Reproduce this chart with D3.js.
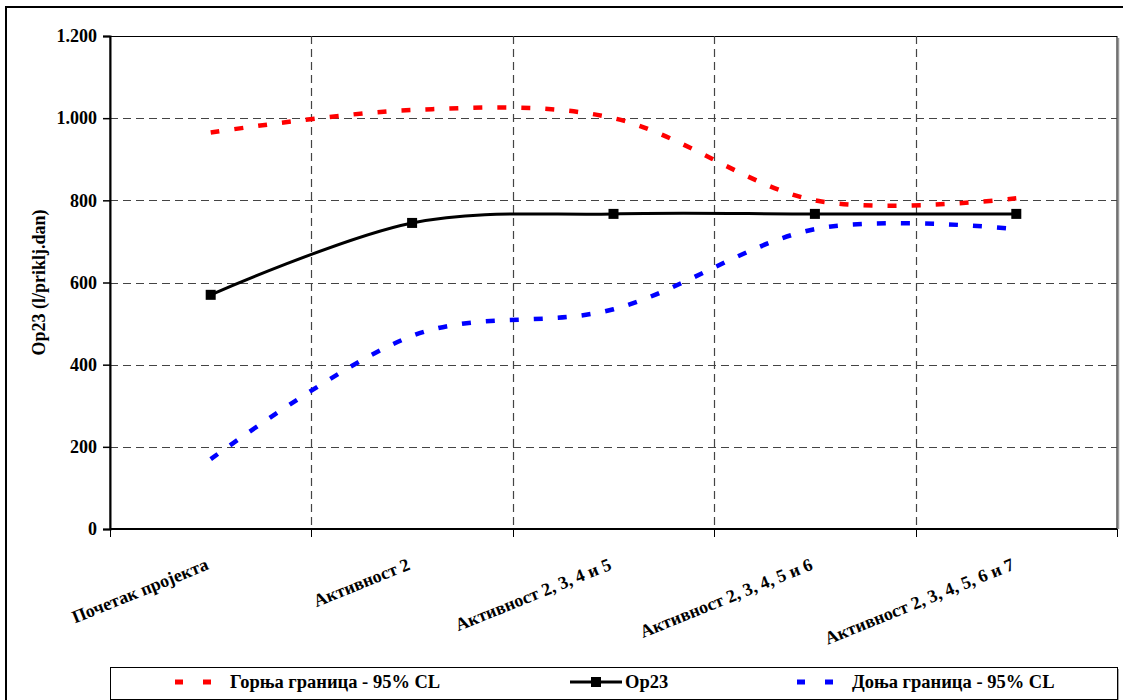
<!DOCTYPE html>
<html>
<head>
<meta charset="utf-8">
<script src="https://cdn.jsdelivr.net/npm/d3@7"></script>
<style>
  html, body { margin: 0; padding: 0; background: #fff; }
  svg text { font-family: "Times New Roman", "Liberation Serif", Tinos, serif; font-weight: bold; fill: #000; }
</style>
</head>
<body>
<svg id="chart" width="1123" height="700"></svg>
<script>
// Categories (project stages)
const categories = [
  "Почетак пројекта",
  "Активност 2",
  "Активност 2, 3, 4 и 5",
  "Активност 2, 3, 4, 5 и 6",
  "Активност 2, 3, 4, 5, 6 и 7"
];

// Series values (l/priklj.dan)
const upperValues = [965, 1020, 1000, 800, 805];
const op23Values  = [570, 745, 767, 767, 767];
const lowerValues = [170, 470, 535, 730, 730];

// Y axis ticks
const yTicks = [0, 200, 400, 600, 800, 1000, 1200];

const seriesNames = ["Горња граница - 95% CL", "Op23", "Доња граница - 95% CL"];
const yTitle = "Op23 (l/priklj.dan)";

const svg = d3.select("#chart");
const plot = { left: 110, right: 1117, top: 36, bottom: 529 };

// Outer chart frame
svg.append("rect")
  .attr("x", 6).attr("y", 7)
  .attr("width", 1130).attr("height", 710)
  .attr("fill", "#fff").attr("stroke", "#000").attr("stroke-width", 2);

const x = d3.scaleBand().domain(categories).range([plot.left, plot.right]).padding(0);
const cx = d => x(d) + x.bandwidth() / 2;
const y = d3.scaleLinear().domain([0, 1200]).range([plot.bottom, plot.top]);

const fmt = d3.formatLocale({ decimal: ",", thousands: ".", grouping: [3], currency: ["", ""] }).format(",d");

// Plot area shadow and frame
svg.append("path")
  .attr("d", `M${plot.right + 1.5},${plot.top + 2} V${plot.bottom}`)
  .attr("stroke", "#999").attr("stroke-width", 1.5).attr("fill", "none");
svg.append("rect")
  .attr("x", plot.left).attr("y", plot.top + 0.5)
  .attr("width", plot.right - plot.left).attr("height", plot.bottom - plot.top)
  .attr("fill", "#fff").attr("stroke", "#000").attr("stroke-width", 1);

// Horizontal gridlines
svg.append("g")
  .selectAll("line")
  .data(yTicks.filter(t => t > 0 && t < 1200))
  .join("line")
  .attr("x1", plot.left).attr("x2", plot.right)
  .attr("y1", d => Math.round(y(d)) + 0.5).attr("y2", d => Math.round(y(d)) + 0.5)
  .attr("stroke", "#444").attr("stroke-width", 1.2)
  .attr("stroke-dasharray", "8,5");

// Vertical gridlines at category boundaries
const boundaries = categories.slice(1).map(c => x(c));
svg.append("g")
  .selectAll("line")
  .data(boundaries)
  .join("line")
  .attr("x1", d => Math.round(d) + 0.5).attr("x2", d => Math.round(d) + 0.5)
  .attr("y1", plot.top).attr("y2", plot.bottom)
  .attr("stroke", "#444").attr("stroke-width", 1.2)
  .attr("stroke-dasharray", "8,5");

// Y axis
const yAxis = d3.axisLeft(y).tickValues(yTicks).tickFormat(fmt).tickSize(7).tickPadding(6);
const gy = svg.append("g").attr("transform", `translate(${plot.left},0)`).call(yAxis);
gy.attr("font-family", null).attr("font-size", null);
gy.select(".domain").attr("stroke", "#000").attr("stroke-width", 2);
gy.selectAll(".tick line").attr("stroke", "#000").attr("stroke-width", 1.5);
gy.selectAll(".tick text").style("font-size", "18px");

// X axis line and ticks at boundaries
svg.append("line")
  .attr("x1", plot.left).attr("x2", plot.right)
  .attr("y1", plot.bottom).attr("y2", plot.bottom)
  .attr("stroke", "#000").attr("stroke-width", 2);
svg.append("g")
  .selectAll("line")
  .data([plot.left].concat(boundaries, [plot.right]))
  .join("line")
  .attr("x1", d => Math.round(d) + 0.5).attr("x2", d => Math.round(d) + 0.5)
  .attr("y1", plot.bottom).attr("y2", plot.bottom + 8)
  .attr("stroke", "#000").attr("stroke-width", 1);

// Category labels (rotated)
svg.append("g")
  .selectAll("text")
  .data(categories)
  .join("text")
  .attr("transform", d => `translate(${cx(d) - 1},${plot.bottom + 40}) rotate(-22)`)
  .attr("text-anchor", "end")
  .style("font-size", "18px")
  .text(d => d);

// Y axis title
svg.append("text")
  .attr("transform", `translate(45,${(plot.top + plot.bottom) / 2}) rotate(-90)`)
  .attr("text-anchor", "middle")
  .style("font-size", "18px")
  .text(yTitle);

// Smoothed lines
const line = d3.line()
  .x((d, i) => cx(categories[i]))
  .y(d => y(d))
  .curve(d3.curveCardinal.tension(0));

const plotG = svg.append("g");
plotG.append("path")
  .datum(upperValues)
  .attr("d", line)
  .attr("fill", "none").attr("stroke", "#ff0000").attr("stroke-width", 4.5)
  .attr("stroke-dasharray", "9,15");
plotG.append("path")
  .datum(lowerValues)
  .attr("d", line)
  .attr("fill", "none").attr("stroke", "#0000ff").attr("stroke-width", 4.5)
  .attr("stroke-dasharray", "9,15");
plotG.append("path")
  .datum(op23Values)
  .attr("d", line)
  .attr("fill", "none").attr("stroke", "#000").attr("stroke-width", 3);
plotG.selectAll("rect.marker")
  .data(op23Values)
  .join("rect")
  .attr("class", "marker")
  .attr("x", (d, i) => cx(categories[i]) - 5)
  .attr("y", d => y(d) - 5)
  .attr("width", 10).attr("height", 10)
  .attr("fill", "#000");

// Legend
const leg = { x: 110, y: 667, w: 1007, h: 32 };
svg.append("path")
  .attr("d", `M${leg.x + 2},${leg.y + leg.h + 1} H${leg.x + leg.w + 1} V${leg.y + 2}`)
  .attr("stroke", "#888").attr("stroke-width", 1.5).attr("fill", "none");
svg.append("rect")
  .attr("x", leg.x + 0.5).attr("y", leg.y + 0.5)
  .attr("width", leg.w).attr("height", leg.h)
  .attr("fill", "#fff").attr("stroke", "#000").attr("stroke-width", 1);

const ly = leg.y + 15;
const legendItems = [
  { name: seriesNames[0], color: "#ff0000", type: "dash", x0: 175 },
  { name: seriesNames[1], color: "#000", type: "marker", x0: 570 },
  { name: seriesNames[2], color: "#0000ff", type: "dash", x0: 797 }
];
const lg = svg.append("g");
legendItems.forEach(it => {
  if (it.type === "dash") {
    lg.append("line")
      .attr("x1", it.x0).attr("x2", it.x0 + 36)
      .attr("y1", ly).attr("y2", ly)
      .attr("stroke", it.color).attr("stroke-width", 5)
      .attr("stroke-dasharray", "8,20");
    lg.append("text")
      .attr("x", it.x0 + 55).attr("y", ly + 6)
      .style("font-size", "18.5px")
      .text(it.name);
  } else {
    lg.append("line")
      .attr("x1", it.x0).attr("x2", it.x0 + 52)
      .attr("y1", ly).attr("y2", ly)
      .attr("stroke", it.color).attr("stroke-width", 3);
    lg.append("rect")
      .attr("x", it.x0 + 21).attr("y", ly - 5)
      .attr("width", 10).attr("height", 10)
      .attr("fill", it.color);
    lg.append("text")
      .attr("x", it.x0 + 55).attr("y", ly + 6)
      .style("font-size", "18.5px")
      .text(it.name);
  }
});
</script>
</body>
</html>
